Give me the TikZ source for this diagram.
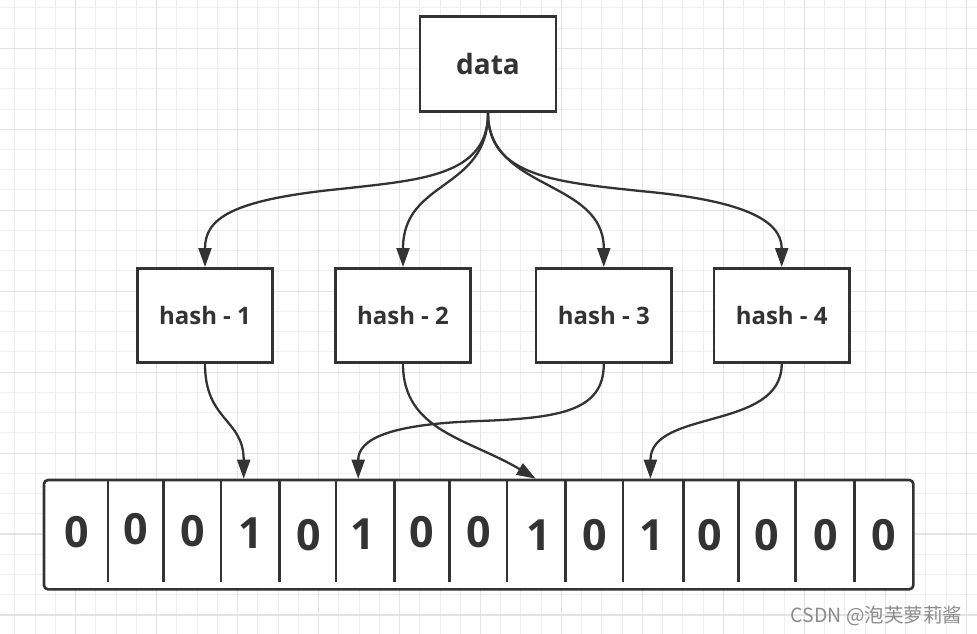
\documentclass[tikz,border=0pt]{standalone}
\usepackage{fontspec}
\usetikzlibrary{arrows.meta,calc}
\newfontfamily\labfont{Open Sans}
\newfontfamily\cjkfont{Noto Sans CJK SC}
\definecolor{ink}{HTML}{333333}
\definecolor{gridminor}{HTML}{EFEFEF}
\definecolor{gridmajor}{HTML}{E3E3E3}
\definecolor{wmark}{HTML}{8C8C8C}
\tikzset{
  minorline/.style={draw=gridminor, line width=1pt},
  majorline/.style={draw=gridmajor, line width=1.2pt},
  box/.style={draw=ink, fill=white, line width=2.6pt, minimum width=136pt,
    minimum height=95pt, inner sep=0pt, text=ink},
  datafont/.style={font=\labfont\bfseries\fontsize{28}{34}\selectfont},
  hashfont/.style={font=\labfont\bfseries\fontsize{24}{28}\selectfont},
  cell/.style={inner sep=0pt, text=ink, font=\labfont\bfseries\fontsize{43}{50}\selectfont},
  conn/.style={draw=ink, line width=2.3pt, -{Triangle[length=19pt,width=13pt]}},
  divider/.style={draw=ink, line width=2.4pt},
}
\begin{document}
\begin{tikzpicture}[x=1pt,y=-1pt]
\useasboundingbox (0,0) rectangle (977,634);
\fill[white] (0,0) rectangle (977,634);
% grid
\begin{scope}
\clip (0,0) rectangle (977,634);
\foreach \k in {-4,...,46} {
  \pgfmathsetmacro\xx{75.7+20.24*\k}
  \draw[minorline] (\xx,0) -- (\xx,634);
}
\foreach \k in {-3,...,30} {
  \pgfmathsetmacro\yy{48.3+20.24*\k}
  \draw[minorline] (0,\yy) -- (977,\yy);
}
\foreach \k in {-1,...,12} {
  \pgfmathsetmacro\xx{75.7+80.96*\k}
  \draw[majorline] (\xx,0) -- (\xx,634);
}
\foreach \k in {-1,...,8} {
  \pgfmathsetmacro\yy{48.3+80.96*\k}
  \draw[majorline] (0,\yy) -- (977,\yy);
}
\end{scope}

% nodes
\node[box, datafont] (data) at (488,64.2) {data};
\node[box, hashfont, minimum width=135.5pt, minimum height=94.4pt] (h1) at (205,315.5) {hash - 1};
\node[box, hashfont, minimum width=135.5pt, minimum height=94.4pt] (h2) at (403,315.5) {hash - 2};
\node[box, hashfont, minimum width=135.5pt, minimum height=94.4pt] (h3) at (603.8,315.5) {hash - 3};
\node[box, hashfont, minimum width=135.5pt, minimum height=94.4pt] (h4) at (781.7,315.5) {hash - 4};

% bit array
\node[draw=ink, fill=white, line width=2.6pt, rounded corners=4pt, inner sep=0pt,
  minimum width=869.3pt, minimum height=109.3pt] (array) at (478.65,534.65) {};
\foreach \x in {107.7,163.3,220.7,279.3,336,394.3,449.3,506.7,565.3,622.7,683.3,738.3,795.3,854.3} {
  \draw[divider] (\x,480) -- (\x,582);
}
\node[cell] (c1) at (76.7,532) {0};
\node[cell] (c2) at (136,529.5) {0};
\node[cell] (c3) at (192.3,531) {0};
\node[cell] (c4) at (250.7,533.5) {1};
\node[cell] (c5) at (308.3,535) {0};
\node[cell] (c6) at (362.7,534.5) {1};
\node[cell] (c7) at (421.7,532) {0};
\node[cell] (c8) at (478.3,532) {0};
\node[cell] (c9) at (538.3,535) {1};
\node[cell] (c10) at (594.3,535.5) {0};
\node[cell] (c11) at (651.7,535) {1};
\node[cell] (c12) at (710,535) {0};
\node[cell] (c13) at (766.7,535) {0};
\node[cell] (c14) at (826,535) {0};
\node[cell] (c15) at (883.3,535) {0};

% targets on the array top and bends
\coordinate (p4) at ($(array.north west)+(201,0)$);
\coordinate (p6) at ($(array.north west)+(315.5,0)$);
\coordinate (p9) at ($(array.north west)+(493,0)$);
\coordinate (p11) at ($(array.north west)+(607.7,0)$);
\coordinate (w1) at (340,189);
\coordinate (w4) at (640,191);
\coordinate (w3) at (480,421);

% connectors from data
\draw[conn] (data.south) .. controls +(0,63.3) and +(80,-9) .. (w1)
  .. controls +(-110,11) and +(0,-48) .. (h1.north);
\draw[conn] (data.south) .. controls +(0,78) and +(0,-88) .. (h2.north);
\draw[conn] (data.south) .. controls +(0,78) and +(0,-88) .. (h3.north);
\draw[conn] (data.south) .. controls +(0,63.3) and +(-84,-9) .. (w4)
  .. controls +(100,9) and +(0,-48) .. (h4.north);

% connectors to the array
\draw[conn] (h1.south) .. controls +(0,57) and +(0,-60) .. (p4);
\draw[conn] (h2.south) .. controls +(0,67) and +(-67,-40) .. (p9);
\draw[conn] (h3.south) .. controls +(0,47) and +(80,-3) .. (w3)
  .. controls +(-90,3) and +(0,-40) .. (p6);
\draw[conn] (h4.south) .. controls +(0,67) and +(0,-70) .. (p11);

% watermark
\node[anchor=base west, inner sep=0pt, text=wmark, font=\cjkfont\fontsize{19.5}{22}\selectfont]
  (wm) at (790.5,622.5) {CSDN @泡芙萝莉酱};
\end{tikzpicture}
\end{document}
